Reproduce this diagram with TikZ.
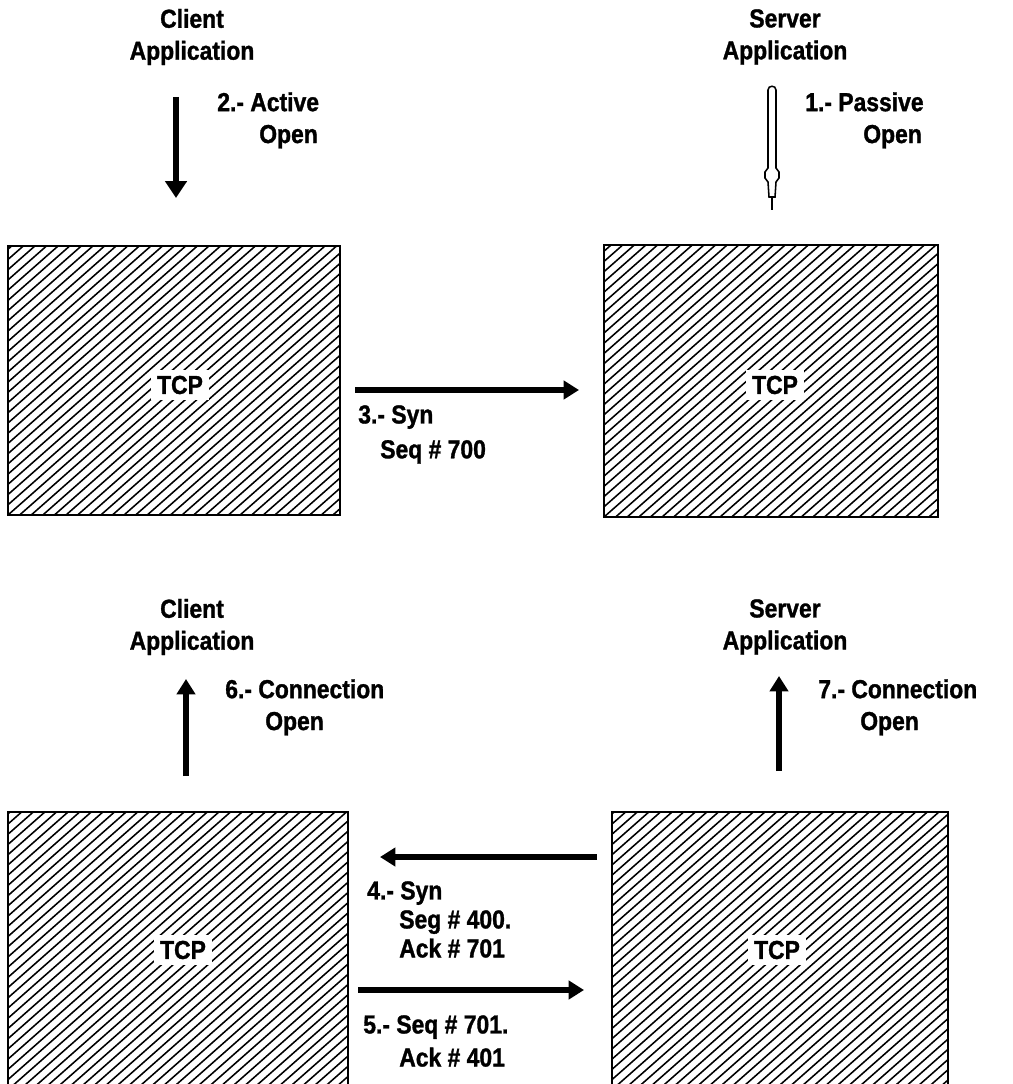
\documentclass[tikz,border=0pt]{standalone}
\usepackage{fontspec}
\setmainfont[FakeStretch=0.88, BoldFeatures={FakeBold=1.2}]{Liberation Sans}
\usetikzlibrary{arrows.meta}

\tikzset{
  tcpbox/.style={draw, line width=1.4pt, inner sep=0pt, outer sep=0pt,
    path picture={\foreach \k in {-36,...,32}
      \draw[line width=1.1pt] ([xshift=\k*0.29cm]path picture bounding box.south west) -- ++(420,-370);}},
  tcplbl/.style={fill=white, inner sep=4pt},
  applbl/.style={align=center, inner sep=0pt},
  steplbl/.style={anchor=north west, align=left, inner sep=0pt},
  fatarrow/.style={line width=3.6pt, -{Triangle[length=11pt, width=13pt]}},
}

\begin{document}
\begin{tikzpicture}[x=0.025cm, y=-0.025cm, font=\fontsize{18.5}{22.7}\selectfont\bfseries]
  \useasboundingbox (0,0) rectangle (1012,1084);
  \clip (0,0) rectangle (1012,1084);

  % TCP boxes: name/x/y/width/height (px)
  \foreach \n/\x/\y/\w/\h in {%
    tcpCA/174/380.5/332/269, tcpSA/771/381/334/272,
    tcpCB/178/956/340/288,   tcpSB/780/956/336/288}
    \node[tcpbox, minimum width=\w*0.025cm, minimum height=\h*0.025cm] (\n) at (\x,\y) {};
  \node[tcplbl] (tcpCAlbl) at (180,385) {TCP};
  \node[tcplbl] (tcpSAlbl) at (775,385) {TCP};
  \node[tcplbl] (tcpCBlbl) at (183,950) {TCP};
  \node[tcplbl] (tcpSBlbl) at (777,950) {TCP};

  % TOP: applications open
  \node[applbl] (cliA) at (192,37) {Client\\Application};
  \node[applbl] (srvA) at (785,37) {Server\\Application};

  \coordinate (actS) at (176,97);
  \coordinate (actE) at (176,198);
  \draw[fatarrow, line width=4.2pt, -{Triangle[length=12pt, width=15pt]}] (actS) -- (actE);
  \node[steplbl] (actlbl) at (217,92) {2.- Active\\\hspace*{1.05cm}Open};

  % passive open: hollow arrow
  \coordinate (pasE) at (772,210);
  \draw[line width=1.1pt] (768,90) -- (768,168) -- (765,172) -- (765,178) -- (768,182)
    -- (769,197) -- (775,197) -- (776,182) -- (779,178) -- (779,172) -- (776,168)
    -- (776,90) .. controls (776,85) and (768,85) .. cycle;
  \draw[line width=1.1pt] (772,197) -- (pasE);
  \node[steplbl] (paslbl) at (805,92) {1.- Passive\\\hspace*{1.45cm}Open};

  % syn
  \coordinate (synS) at (355,390);
  \coordinate (synE) at (579,390);
  \draw[fatarrow] (synS) -- (synE);
  \node[steplbl, font=\fontsize{18.5}{24.8}\selectfont\bfseries] (synlbl) at (358,405)
    {3.- Syn\\\hspace*{0.55cm}Seq \# 700};

  % MIDDLE: applications told
  \node[applbl] (cliB) at (192,627) {Client\\Application};
  \node[applbl] (srvB) at (785,627) {Server\\Application};

  \coordinate (cliOS) at (186,776);
  \coordinate (cliOE) at (186,679);
  \draw[fatarrow] (cliOS) -- (cliOE);
  \node[steplbl] (cliOlbl) at (225,679) {6.- Connection\\\hspace*{1.0cm}Open};

  \coordinate (srvOS) at (779,771);
  \coordinate (srvOE) at (779,676);
  \draw[fatarrow] (srvOS) -- (srvOE);
  \node[steplbl] (srvOlbl) at (818,679) {7.- Connection\\\hspace*{1.05cm}Open};

  % BOTTOM: syn-ack and ack
  \coordinate (sakS) at (597,857);
  \coordinate (sakE) at (380,857);
  \draw[fatarrow] (sakS) -- (sakE);
  \node[steplbl, font=\fontsize{18.5}{20.6}\selectfont\bfseries] (saklbl) at (367,881)
    {4.- Syn\\\hspace*{0.8cm}Seg \# 400.\\\hspace*{0.8cm}Ack \# 701};

  \coordinate (ackS) at (358,990);
  \coordinate (ackE) at (584,990);
  \draw[fatarrow] (ackS) -- (ackE);
  \node[steplbl, font=\fontsize{18.5}{23.5}\selectfont\bfseries] (acklbl) at (363,1015)
    {5.- Seq \# 701.\\\hspace*{0.9cm}Ack \# 401};
\end{tikzpicture}
\end{document}
